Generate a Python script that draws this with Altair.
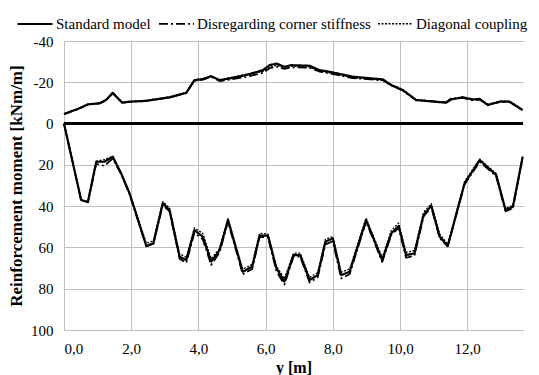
import altair as alt
import pandas as pd

series_names = ["Standard model", "Disregarding corner stiffness", "Diagonal coupling"]

x_top = [0.0, 0.46, 0.71, 1.06, 1.25, 1.45, 1.73, 1.95, 2.45, 3.14, 3.64, 3.88, 4.13, 4.38, 4.63,
         4.93, 5.42, 5.92, 6.12, 6.32, 6.56, 6.76, 7.31, 7.6, 7.9, 8.6, 9.49, 9.74, 10.08, 10.48,
         11.37, 11.52, 11.87, 12.17, 12.37, 12.61, 12.96, 13.26, 13.65]
std_top = [-4.6, -7.4, -9.3, -9.8, -11.4, -14.9, -10.1, -10.6, -11.0, -12.7, -14.9, -21.0, -21.5, -23.0, -21.0,
           -21.9, -23.5, -25.9, -28.3, -29.1, -27.5, -28.3, -28.0, -25.9, -25.1, -22.7, -21.4, -18.6, -16.2, -11.4,
           -10.1, -11.7, -12.7, -11.7, -11.9, -9.0, -10.6, -10.6, -6.5]
dd_top = [-4.6, -7.3, -9.2, -9.8, -11.2, -14.6, -10.1, -10.5, -11.0, -12.6, -14.8, -20.8, -21.3, -22.6, -20.6,
          -21.3, -22.6, -24.6, -26.8, -27.6, -26.5, -27.3, -27.0, -25.2, -24.3, -22.0, -21.0, -18.4, -16.0, -11.3,
          -10.3, -12.2, -12.4, -11.2, -11.6, -9.2, -10.4, -10.4, -6.6]
dg_top = [-4.7, -7.5, -9.4, -10.0, -11.6, -15.0, -10.3, -10.8, -11.3, -13.0, -15.2, -21.2, -21.7, -22.8, -21.2,
          -22.2, -23.9, -25.2, -27.4, -28.2, -27.0, -27.8, -27.3, -25.4, -24.6, -22.2, -21.0, -18.9, -16.6, -11.6,
          -10.4, -11.9, -12.9, -11.4, -12.2, -9.3, -10.8, -10.9, -6.8]

x_bot = [0.0, 0.51, 0.71, 0.96, 1.2, 1.45, 1.70, 1.95, 2.45, 2.66, 2.94, 3.14, 3.44, 3.64, 3.88,
         4.13, 4.38, 4.63, 4.88, 5.32, 5.6, 5.82, 6.07, 6.32, 6.56, 6.83, 7.03, 7.31, 7.55, 7.78,
         8.0, 8.25, 8.5, 8.99, 9.47, 9.74, 9.96, 10.18, 10.43, 10.7, 10.93, 11.18, 11.42, 11.92, 12.37,
         12.86, 13.14, 13.36, 13.65]
std_bot = [0.0, 37.0, 38.0, 18.5, 18.5, 16.1, 24.1, 33.8, 59.3, 58.0, 38.6, 41.9, 64.5, 66.1, 51.6,
           54.8, 66.9, 61.3, 46.7, 71.8, 69.3, 54.3, 54.3, 70.0, 76.6, 63.7, 63.7, 75.8, 73.4, 57.2,
           55.6, 73.4, 71.8, 46.7, 66.1, 53.2, 49.6, 63.7, 62.9, 44.3, 39.8, 54.8, 59.3, 29.0, 17.7,
           24.9, 41.9, 40.3, 16.1]
dd_bot = [0.0, 37.2, 38.2, 19.5, 20.5, 17.0, 24.5, 34.2, 59.5, 58.2, 39.5, 42.5, 65.5, 67.5, 53.0,
          56.0, 68.5, 62.5, 47.5, 73.0, 70.5, 55.0, 55.0, 71.5, 78.0, 64.5, 64.5, 77.0, 74.5, 58.5,
          57.0, 75.0, 73.0, 47.5, 67.0, 54.0, 50.5, 65.0, 64.0, 45.0, 40.5, 55.5, 59.5, 29.5, 18.5,
          25.5, 42.5, 41.0, 16.3]
dg_bot = [0.0, 36.8, 37.8, 18.2, 17.5, 15.8, 23.8, 33.5, 58.0, 56.8, 37.8, 40.8, 63.0, 64.8, 50.5,
          53.2, 65.5, 60.5, 46.0, 70.5, 68.2, 53.2, 53.5, 69.0, 75.2, 62.8, 62.8, 74.5, 72.2, 56.0,
          54.8, 72.0, 70.5, 45.8, 65.0, 51.8, 48.2, 62.5, 61.5, 43.0, 38.8, 53.5, 58.5, 28.2, 17.2,
          24.2, 41.0, 39.6, 16.0]
zero_line = [0]

x_ticks = [0, 2, 4, 6, 8, 10, 12]
y_ticks = [-40, -20, 0, 20, 40, 60, 80, 100]

rows = []
for name, top, bot in zip(series_names, [std_top, dd_top, dg_top], [std_bot, dd_bot, dg_bot]):
    for x, v in zip(x_top, top):
        rows.append({"x": x, "m": v, "series": name, "part": "top"})
    for x, v in zip(x_bot, bot):
        rows.append({"x": x, "m": v, "series": name, "part": "bottom"})
df = pd.DataFrame(rows)

FONT = "Liberation Serif"
LFONT = "'Liberation Serif', 'Times New Roman', serif"

y_scale = alt.Scale(domain=[-40, 100], reverse=True, nice=False, zero=False)
y_axis = alt.Axis(values=y_ticks, title="Reinforcement moment [kNm/m]",
                  labelExpr="'' + datum.value",
                  labelFont=LFONT, labelFontSize=15, labelColor="black", labelFontWeight="normal",
                  titleFont=FONT, titleFontSize=17, titleFontWeight="bold", titleColor="black",
                  labelPadding=11, titlePadding=5)

lines = alt.Chart(df).mark_line(color="black", strokeJoin="round").encode(
    x=alt.X("x:Q", scale=alt.Scale(domain=[0, 13.66], nice=False, zero=False),
            axis=alt.Axis(values=x_ticks, title="y [m]",
                          labelExpr="replace(format(datum.value, '.1f'), '.', ',')",
                          labelFont=LFONT, labelFontSize=15, labelColor="black", labelFontWeight="normal",
                          titleFont=FONT, titleFontSize=16, titleFontWeight="bold", titleColor="black",
                          labelPadding=11, titlePadding=3)),
    y=alt.Y("m:Q", scale=y_scale, axis=y_axis),
    strokeDash=alt.StrokeDash("series:N",
                              scale=alt.Scale(domain=series_names, range=[[1, 0], [9, 3, 2, 3], [2, 1.5]]),
                              legend=alt.Legend(orient="none", legendX=-48, legendY=-36,
                                                direction="horizontal", title=None,
                                                symbolType="stroke", symbolSize=1225,
                                                symbolStrokeColor="black", symbolStrokeWidth=1.6,
                                                labelFont=FONT, labelFontSize=15, labelColor="black",
                                                labelLimit=400,
                                                labelOffset=2, columnPadding=4)),
    strokeWidth=alt.StrokeWidth("series:N",
                                scale=alt.Scale(domain=series_names, range=[2.2, 1.3, 1.3]),
                                legend=None),
    detail="part:N",
)

zero = alt.Chart(pd.DataFrame({"m": zero_line})).mark_rule(color="black", strokeWidth=3).encode(
    y=alt.Y("m:Q", scale=y_scale, axis=y_axis)
)

chart = alt.layer(lines, zero).properties(
    width=459, height=289,
    autosize=alt.AutoSizeParams(type="none"),
    padding={"left": 64, "top": 41, "right": 16, "bottom": 45},
    background="white",
).configure_view(stroke=None).configure_axis(
    grid=True, gridColor="#bfbfbf", gridWidth=1, domainColor="#bfbfbf", ticks=False,
    labelFont=LFONT, titleFont=FONT,
)

chart.save("out.html", embed_options={"renderer": "svg", "actions": False})
